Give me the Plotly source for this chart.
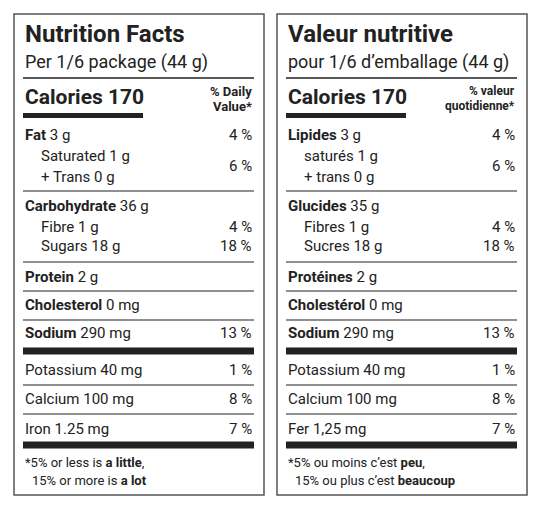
import plotly.graph_objects as go

FONT = "Roboto, sans-serif"
titles = ["Nutrition Facts", "Valeur nutritive"]
servings = ["Per 1/6 package (44 g)", "pour 1/6 d’emballage (44 g)"]
calories = ["<b>Calories 170</b>", "<b>Calories 170</b>"]
dv_head = [["% Daily", "Value*"], ["% valeur", "quotidienne*"]]
rows_en = [("<b>Fat</b> 3 g", "4 %", 135), ("Saturated 1 g", "", 156), ("+ Trans 0 g", "6 %", 177),
           ("<b>Carbohydrate</b> 36 g", "", 206), ("Fibre 1 g", "4 %", 227), ("Sugars 18 g", "18 %", 246),
           ("<b>Protein</b> 2 g", "", 277), ("<b>Cholesterol</b> 0 mg", "", 305),
           ("<b>Sodium</b> 290 mg", "13 %", 333), ("Potassium 40 mg", "1 %", 370),
           ("Calcium 100 mg", "8 %", 399), ("Iron 1.25 mg", "7 %", 429)]
rows_fr = [("<b>Lipides</b> 3 g", "4 %", 135), ("saturés 1 g", "", 156), ("+ trans 0 g", "6 %", 177),
           ("<b>Glucides</b> 35 g", "", 206), ("Fibres 1 g", "4 %", 227), ("Sucres 18 g", "18 %", 246),
           ("<b>Protéines</b> 2 g", "", 277), ("<b>Cholestérol</b> 0 mg", "", 305),
           ("<b>Sodium</b> 290 mg", "13 %", 333), ("Potassium 40 mg", "1 %", 370),
           ("Calcium 100 mg", "8 %", 399), ("Fer 1,25 mg", "7 %", 429)]
indent = [False, True, True, False, True, True, False, False, False, False, False, False]
foot = [["*5% or less is <b>a little</b>,", "15% or more is <b>a lot</b>"],
        ["*5% ou moins c’est <b>peu</b>,", "15% ou plus c’est <b>beaucoup</b>"]]
thin_lines = [191, 262, 291, 320, 385, 414]

fig = go.Figure()
shapes, ann = [], []
for p, (dx, rows) in enumerate([(0, rows_en), (263, rows_fr)]):
    L, R = 14 + dx, 264 + dx
    cl, cr = 23 + dx, 254 + dx
    shapes.append(dict(type="rect", x0=L, x1=R, y0=14, y1=495, line=dict(color="#555", width=1.5)))
    shapes.append(dict(type="line", x0=cl, x1=cr, y0=78, y1=78, line=dict(color="#222", width=1.5)))
    shapes.append(dict(type="rect", x0=cl, x1=143 + dx, y0=113, y1=118, fillcolor="#222", line_width=0))
    for y in thin_lines:
        shapes.append(dict(type="line", x0=cl, x1=cr, y0=y, y1=y, line=dict(color="#222", width=1.2)))
    for y in (351, 445):
        shapes.append(dict(type="rect", x0=cl, x1=cr, y0=y - 3.5, y1=y + 3.5, fillcolor="#222", line_width=0))
    A = lambda x, y, t, s, xa="left": ann.append(dict(x=x, y=y, text=t, xanchor=xa, yanchor="middle",
                                                   showarrow=False, font=dict(family=FONT, size=s, color="#222")))
    A(cl, 34, "<b>" + titles[p] + "</b>", 24)
    A(cl, 62, servings[p], 18)
    A(cl, 97, calories[p], 21)
    A(cr, 91, "<b>" + dv_head[p][0] + "</b>", 13 if p == 0 else 12, "right")
    A(cr, 106, "<b>" + dv_head[p][1] + "</b>", 13 if p == 0 else 12, "right")
    for (lab, pct, y), ind in zip(rows, indent):
        A(cl + (16 if ind else 0), y, lab, 15)
        if pct:
            A(cr, 166 if y == 177 else y, pct, 15, "right")
    A(cl, 462, foot[p][0], 13)
    A(cl + 7, 480, foot[p][1], 13)

fig.update_layout(width=541, height=507, margin=dict(l=0, r=0, t=0, b=0),
                  paper_bgcolor="white", plot_bgcolor="white", shapes=shapes, annotations=ann,
                  xaxis=dict(range=[8, 549], visible=False, fixedrange=True),
                  yaxis=dict(range=[515, 8], visible=False, fixedrange=True), showlegend=False)
fig.write_html("out.html")
